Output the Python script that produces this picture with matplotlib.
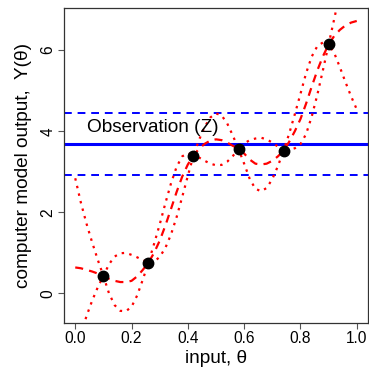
import matplotlib
matplotlib.use("Agg")
import matplotlib.pyplot as plt
import numpy as np

plt.rcParams['font.family'] = ['Liberation Sans', 'DejaVu Sans']

# design runs of the computer model
theta_runs = [0.10, 0.26, 0.42, 0.58, 0.74, 0.90]
y_runs = [0.43, 0.76, 3.40, 3.56, 3.52, 6.14]

# emulator grid, posterior mean and half width of the band
grid = [0.00, 0.02, 0.04, 0.06, 0.08, 0.10, 0.12, 0.14, 0.16, 0.18,
        0.20, 0.22, 0.24, 0.26, 0.28, 0.30, 0.32, 0.34, 0.36, 0.38,
        0.40, 0.42, 0.44, 0.46, 0.48, 0.50, 0.52, 0.54, 0.56, 0.58,
        0.60, 0.62, 0.64, 0.66, 0.68, 0.70, 0.72, 0.74, 0.76, 0.78,
        0.80, 0.82, 0.84, 0.86, 0.88, 0.90, 0.92, 0.94, 0.96, 0.98, 1.00]
post_mean = [0.64, 0.62, 0.58, 0.54, 0.49, 0.43, 0.36, 0.31, 0.28, 0.28,
             0.31, 0.42, 0.58, 0.76, 1.00, 1.30, 1.67, 2.08, 2.50, 2.88,
             3.18, 3.40, 3.57, 3.69, 3.77, 3.80, 3.78, 3.72, 3.64, 3.56,
             3.45, 3.30, 3.20, 3.18, 3.20, 3.27, 3.38, 3.52, 3.74, 4.00,
             4.30, 4.68, 5.10, 5.50, 5.85, 6.14, 6.35, 6.50, 6.61, 6.68, 6.72]
half_width = [2.20, 1.62, 1.14, 0.72, 0.34, 0.00, 0.36, 0.60, 0.71, 0.72,
              0.64, 0.47, 0.24, 0.00, 0.22, 0.40, 0.55, 0.63, 0.62, 0.50,
              0.28, 0.00, 0.22, 0.42, 0.57, 0.64, 0.61, 0.47, 0.25, 0.00,
              0.25, 0.48, 0.62, 0.66, 0.60, 0.45, 0.24, 0.00, 0.20, 0.42,
              0.62, 0.75, 0.74, 0.60, 0.34, 0.00, 0.42, 0.92, 1.40, 1.82, 2.18]

# field observation and its uncertainty
obs_z = 3.68
obs_err = 0.76

grid = np.array(grid)
post_mean = np.array(post_mean)
half_width = np.array(half_width)

fig = plt.figure(figsize=(3.69, 3.68), dpi=100)
ax = fig.add_axes([0.1734, 0.1223, 0.8239, 0.856])

ax.axhline(obs_z, color='#0000ff', lw=2.2, zorder=2)
ax.axhline(obs_z + obs_err, color='#0000ff', lw=1.4, ls=(0, (4, 3)), zorder=2)
ax.axhline(obs_z - obs_err, color='#0000ff', lw=1.4, ls=(0, (4, 3)), zorder=2)

ax.plot(grid, post_mean, color='#ff0000', lw=1.6, ls=(0, (3.6, 2.8)),
        dash_capstyle='butt', zorder=3)
ax.plot(grid, post_mean + half_width, color='#ff0000', lw=1.6, ls=(0, (1.1, 2.4)),
        dash_capstyle='butt', zorder=3)
ax.plot(grid, post_mean - half_width, color='#ff0000', lw=1.6, ls=(0, (1.1, 2.4)),
        dash_capstyle='butt', zorder=3)

ax.plot(theta_runs, y_runs, 'o', color='black', ms=7.5, zorder=4)

ax.text(0.042, 4.08, 'Observation (Z)', fontsize=13.7, ha='left', va='center')

ax.set_xlim(-0.04, 1.04)
ax.set_ylim(-0.73, 7.04)
ax.set_xticks([0.0, 0.2, 0.4, 0.6, 0.8, 1.0])
ax.set_xticklabels(['0.0', '0.2', '0.4', '0.6', '0.8', '1.0'])
ax.set_yticks([0, 2, 4, 6])
ax.tick_params(axis='both', labelsize=11.2, length=4, width=0.8, color='#555555', pad=2)
for lab in ax.get_yticklabels():
    lab.set_rotation(90)
    lab.set_va('center')
for sp in ax.spines.values():
    sp.set_linewidth(0.9)
    sp.set_color('#333333')

ax.set_xlabel('input, θ', fontsize=13.7, labelpad=3)
ax.set_ylabel('computer model output,  Y(θ)', fontsize=13.7, labelpad=6)

fig.savefig('out.png', dpi=100)
